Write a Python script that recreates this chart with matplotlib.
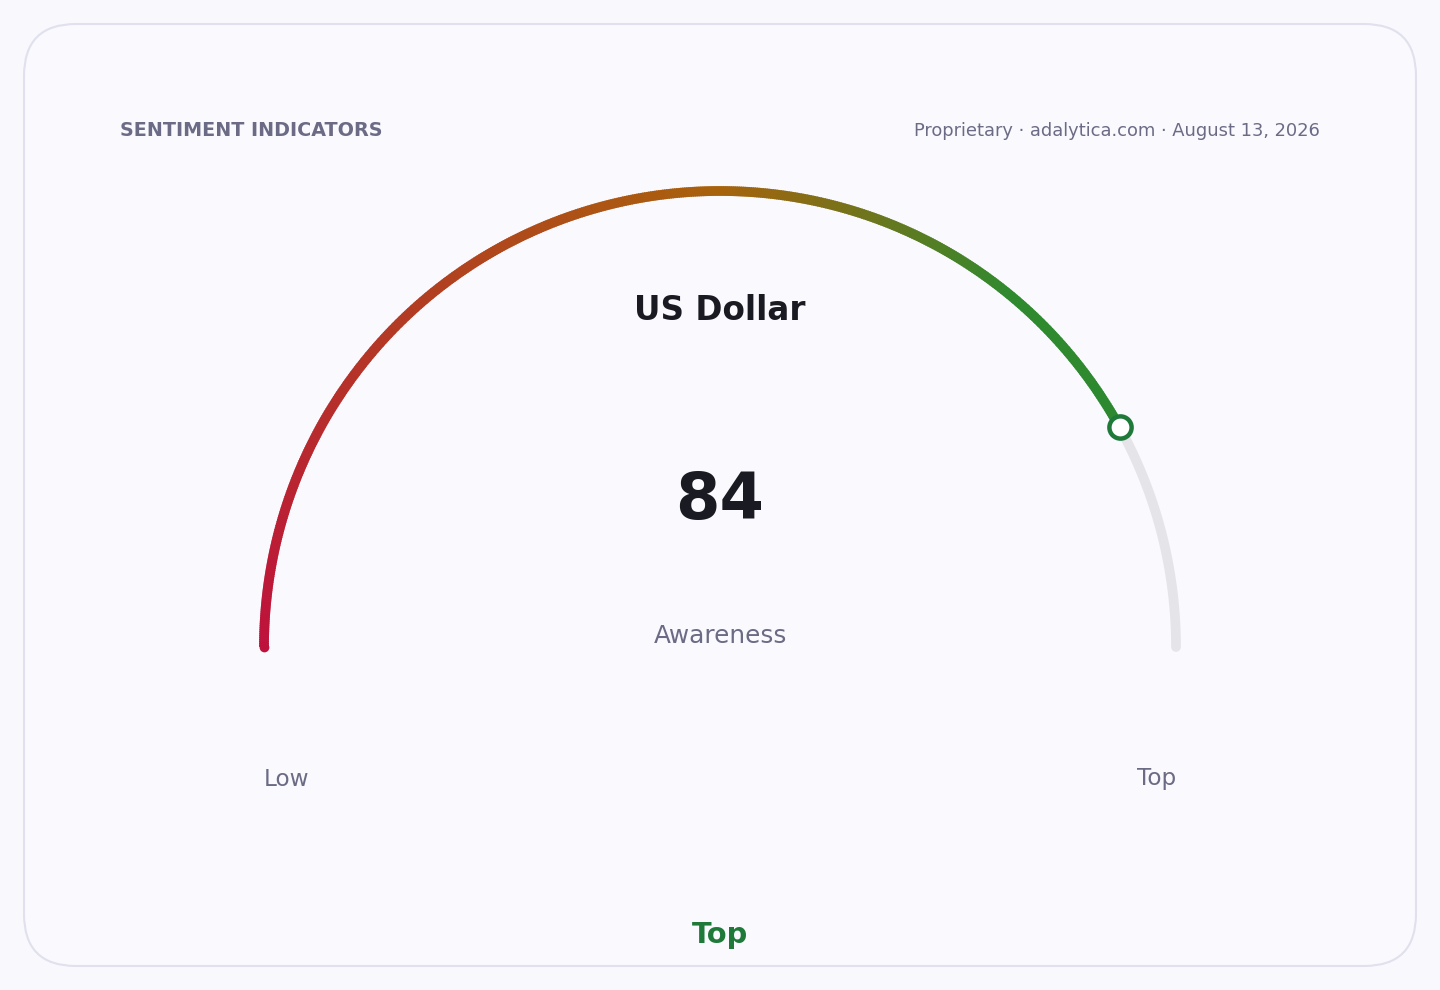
import numpy as np
import matplotlib
matplotlib.use("Agg")
import matplotlib.pyplot as plt
from matplotlib.collections import LineCollection
from matplotlib.colors import LinearSegmentedColormap
from matplotlib.patches import FancyBboxPatch

plt.rcParams["font.family"] = ["DejaVu Sans"]

# ---- data ----
value = 84
vmin, vmax = 0, 100
asset = "US Dollar"
metric = "Awareness"
range_labels = ["Low", "Top"]
band_label = "Top"
header_left = "SENTIMENT INDICATORS"
header_right = "Proprietary \u00b7 adalytica.com \u00b7 August 13, 2026"

# ---- style ----
W, H = 1440, 990
bg = "#f8f8fd"
card_edge = "#e1e1ee"
muted = "#6b6b86"
dark = "#1a1a22"
green = "#1f7a3a"
track = "#e4e4e9"
cmap = LinearSegmentedColormap.from_list(
    "g", [(0.0, "#be123c"), (0.5, "#a8620c"), (0.72, "#2f8a2f"), (1.0, "#2a862e")])
LW = 7

fig = plt.figure(figsize=(W / 100, H / 100), dpi=100, facecolor=bg)
ax = fig.add_axes([0, 0, 1, 1])
ax.set_xlim(0, W)
ax.set_ylim(H, 0)
ax.set_aspect("equal")
ax.axis("off")
ax.set_facecolor(bg)

card = FancyBboxPatch((24, 24), 1392, 942, boxstyle="round,pad=0,rounding_size=52",
                      facecolor="#f9f9fe", edgecolor=card_edge, linewidth=1.5, zorder=0)
ax.add_patch(card)

cx, cy, r = 720, 647, 456

def ang(v):
    return np.pi * (1 - (v - vmin) / (vmax - vmin))

# background track
vt = np.linspace(value, vmax, 100)
ax.plot(cx + r * np.cos(ang(vt)), cy - r * np.sin(ang(vt)), color=track,
        lw=LW, solid_capstyle="round", zorder=1)

# gradient arc
n = 600
vv = np.linspace(vmin, value, n + 1)
step = (value - vmin) / n
segs = []
for i in range(n):
    a0 = ang(vv[i] - (step * 0.6 if i > 0 else 0))
    a1 = ang(vv[i + 1])
    segs.append([(cx + r * np.cos(a0), cy - r * np.sin(a0)),
                 (cx + r * np.cos(a1), cy - r * np.sin(a1))])
cols = cmap((vv[:-1] - vmin) / (vmax - vmin))
lc = LineCollection(segs, colors=cols, linewidths=LW, capstyle="butt",
                    antialiased=True, zorder=2)
ax.add_collection(lc)
# rounded start cap
ax.plot([cx + r * np.cos(ang(vmin))], [cy - r * np.sin(ang(vmin))], marker="o",
        markersize=LW, markeredgewidth=0, color=cmap(0.0), zorder=2)

# marker
ax.plot([cx + r * np.cos(ang(value))], [cy - r * np.sin(ang(value))], marker="o",
        markersize=16, markerfacecolor="white", markeredgecolor=green,
        markeredgewidth=3.2, zorder=3)

# texts
ax.text(120, 131, header_left, fontsize=13.8, fontweight="bold", color=muted,
        ha="left", va="center")
ax.text(1320, 131, header_right, fontsize=12.9, color=muted, ha="right", va="center")
ax.text(720, 311, asset, fontsize=23.5, fontweight="bold", color=dark,
        ha="center", va="center")
ax.text(720, 501, str(value), fontsize=46, fontweight="bold", color=dark,
        ha="center", va="center")
ax.text(720, 636, metric, fontsize=17.8, color=muted, ha="center", va="center")
ax.text(264, 779, range_labels[0], fontsize=16.7, color=muted, ha="left", va="center")
ax.text(1176, 779, range_labels[1], fontsize=16.7, color=muted, ha="right", va="center")
ax.text(720, 935, band_label, fontsize=20.8, fontweight="bold", color=green,
        ha="center", va="center")

fig.savefig("out.png", dpi=100, facecolor=bg)
